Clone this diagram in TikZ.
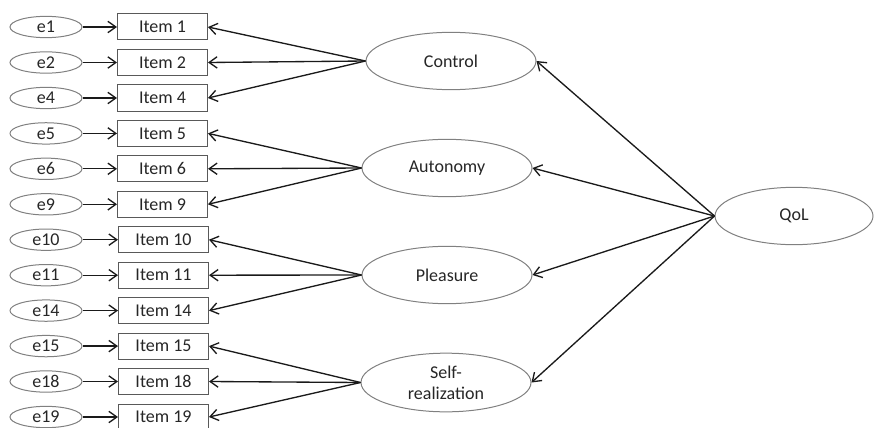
\documentclass[tikz,border=0pt]{standalone}
\usepackage{fontspec}
\setmainfont{Carlito}
\usetikzlibrary{shapes.geometric,arrows.meta}

\definecolor{txtgray}{RGB}{38,38,38}
\definecolor{rimgray}{RGB}{128,128,128}
\definecolor{boxgray}{RGB}{89,89,89}
\definecolor{arrgray}{RGB}{26,26,26}

\tikzset{every picture/.style={line width=0.75pt}}
\tikzset{
  errell/.style={ellipse, draw=rimgray, text=txtgray, minimum width=54pt, minimum height=16pt, inner sep=0pt, font=\fontsize{13.5}{15}\selectfont},
  itembox/.style={rectangle, draw=boxgray, text=txtgray, minimum width=67.5pt, minimum height=19.5pt, inner sep=0pt, font=\fontsize{13.5}{15}\selectfont},
  latell/.style={ellipse, draw=rimgray, text=txtgray, minimum width=127.5pt, minimum height=43pt, inner sep=0pt, align=center, font=\fontsize{13.5}{16}\selectfont},
  arr/.style={draw=arrgray, line width=1pt, -{Straight Barb[length=6pt,width=8.5pt]}}
}

\begin{document}
\begin{tikzpicture}[x=0.75pt,y=0.75pt,yscale=-1,xscale=1]
	\useasboundingbox (0,0) rectangle (874,428);

	%Error terms
	\node [errell] (e1) at (46,27) {e1};
	\node [errell] (e2) at (46,62.5) {e2};
	\node [errell] (e4) at (46,98) {e4};
	\node [errell] (e5) at (46,133.4) {e5};
	\node [errell] (e6) at (46,168.8) {e6};
	\node [errell] (e9) at (46,204.3) {e9};
	\node [errell] (e10) at (46,239.7) {e10};
	\node [errell] (e11) at (46,275.2) {e11};
	\node [errell] (e14) at (46,310.6) {e14};
	\node [errell] (e15) at (46,346.1) {e15};
	\node [errell] (e18) at (46,381.5) {e18};
	\node [errell] (e19) at (46,417) {e19};

	%Items
	\node [itembox] (i1) at (162.5,27) {Item 1};
	\node [itembox] (i2) at (162.5,62.5) {Item 2};
	\node [itembox] (i4) at (162.5,98) {Item 4};
	\node [itembox] (i5) at (162.5,133.4) {Item 5};
	\node [itembox] (i6) at (162.5,168.8) {Item 6};
	\node [itembox] (i9) at (162.5,204.3) {Item 9};
	\node [itembox] (i10) at (163.5,239.7) {Item 10};
	\node [itembox] (i11) at (163.5,275.2) {Item 11};
	\node [itembox] (i14) at (163.5,310.6) {Item 14};
	\node [itembox] (i15) at (163.5,346.1) {Item 15};
	\node [itembox] (i18) at (163.5,381.5) {Item 18};
	\node [itembox] (i19) at (163.5,417) {Item 19};

	%Latent factors
	\node [latell] (control) at (451,61) {Control};
	\node [latell] (autonomy) at (447,168) {Autonomy};
	\node [latell] (pleasure) at (447,275) {Pleasure};
	\node [latell, minimum height=44pt] (selfreal) at (446,382.5) {Self-\\realization};
	\node [latell, minimum width=118.5pt] (qol) at (794,216) {QoL};

	%Error arrows
	\draw [arr] (e1) -- (i1);
	\draw [arr] (e2) -- (i2);
	\draw [arr] (e4) -- (i4);
	\draw [arr] (e5) -- (i5);
	\draw [arr] (e6) -- (i6);
	\draw [arr] (e9) -- (i9);
	\draw [arr] (e10) -- (i10);
	\draw [arr] (e11) -- (i11);
	\draw [arr] (e14) -- (i14);
	\draw [arr] (e15) -- (i15);
	\draw [arr] (e18) -- (i18);
	\draw [arr] (e19) -- (i19);

	%Loadings
	\draw [arr] (control.west) -- (i1.east);
	\draw [arr] (control.west) -- (i2.east);
	\draw [arr] (control.west) -- (i4.east);
	\draw [arr] (autonomy.west) -- (i5.east);
	\draw [arr] (autonomy.west) -- (i6.east);
	\draw [arr] (autonomy.west) -- (i9.east);
	\draw [arr] (pleasure.west) -- (i10.east);
	\draw [arr] (pleasure.west) -- (i11.east);
	\draw [arr] (pleasure.west) -- (i14.east);
	\draw [arr] (selfreal.west) -- (i15.east);
	\draw [arr] (selfreal.west) -- (i18.east);
	\draw [arr] (selfreal.west) -- (i19.east);

	%Second order
	\draw [arr] (qol.west) -- (control.east);
	\draw [arr] (qol.west) -- (autonomy.east);
	\draw [arr] (qol.west) -- (pleasure.east);
	\draw [arr] (qol.west) -- (selfreal.east);

	\end{tikzpicture}
\end{document}
